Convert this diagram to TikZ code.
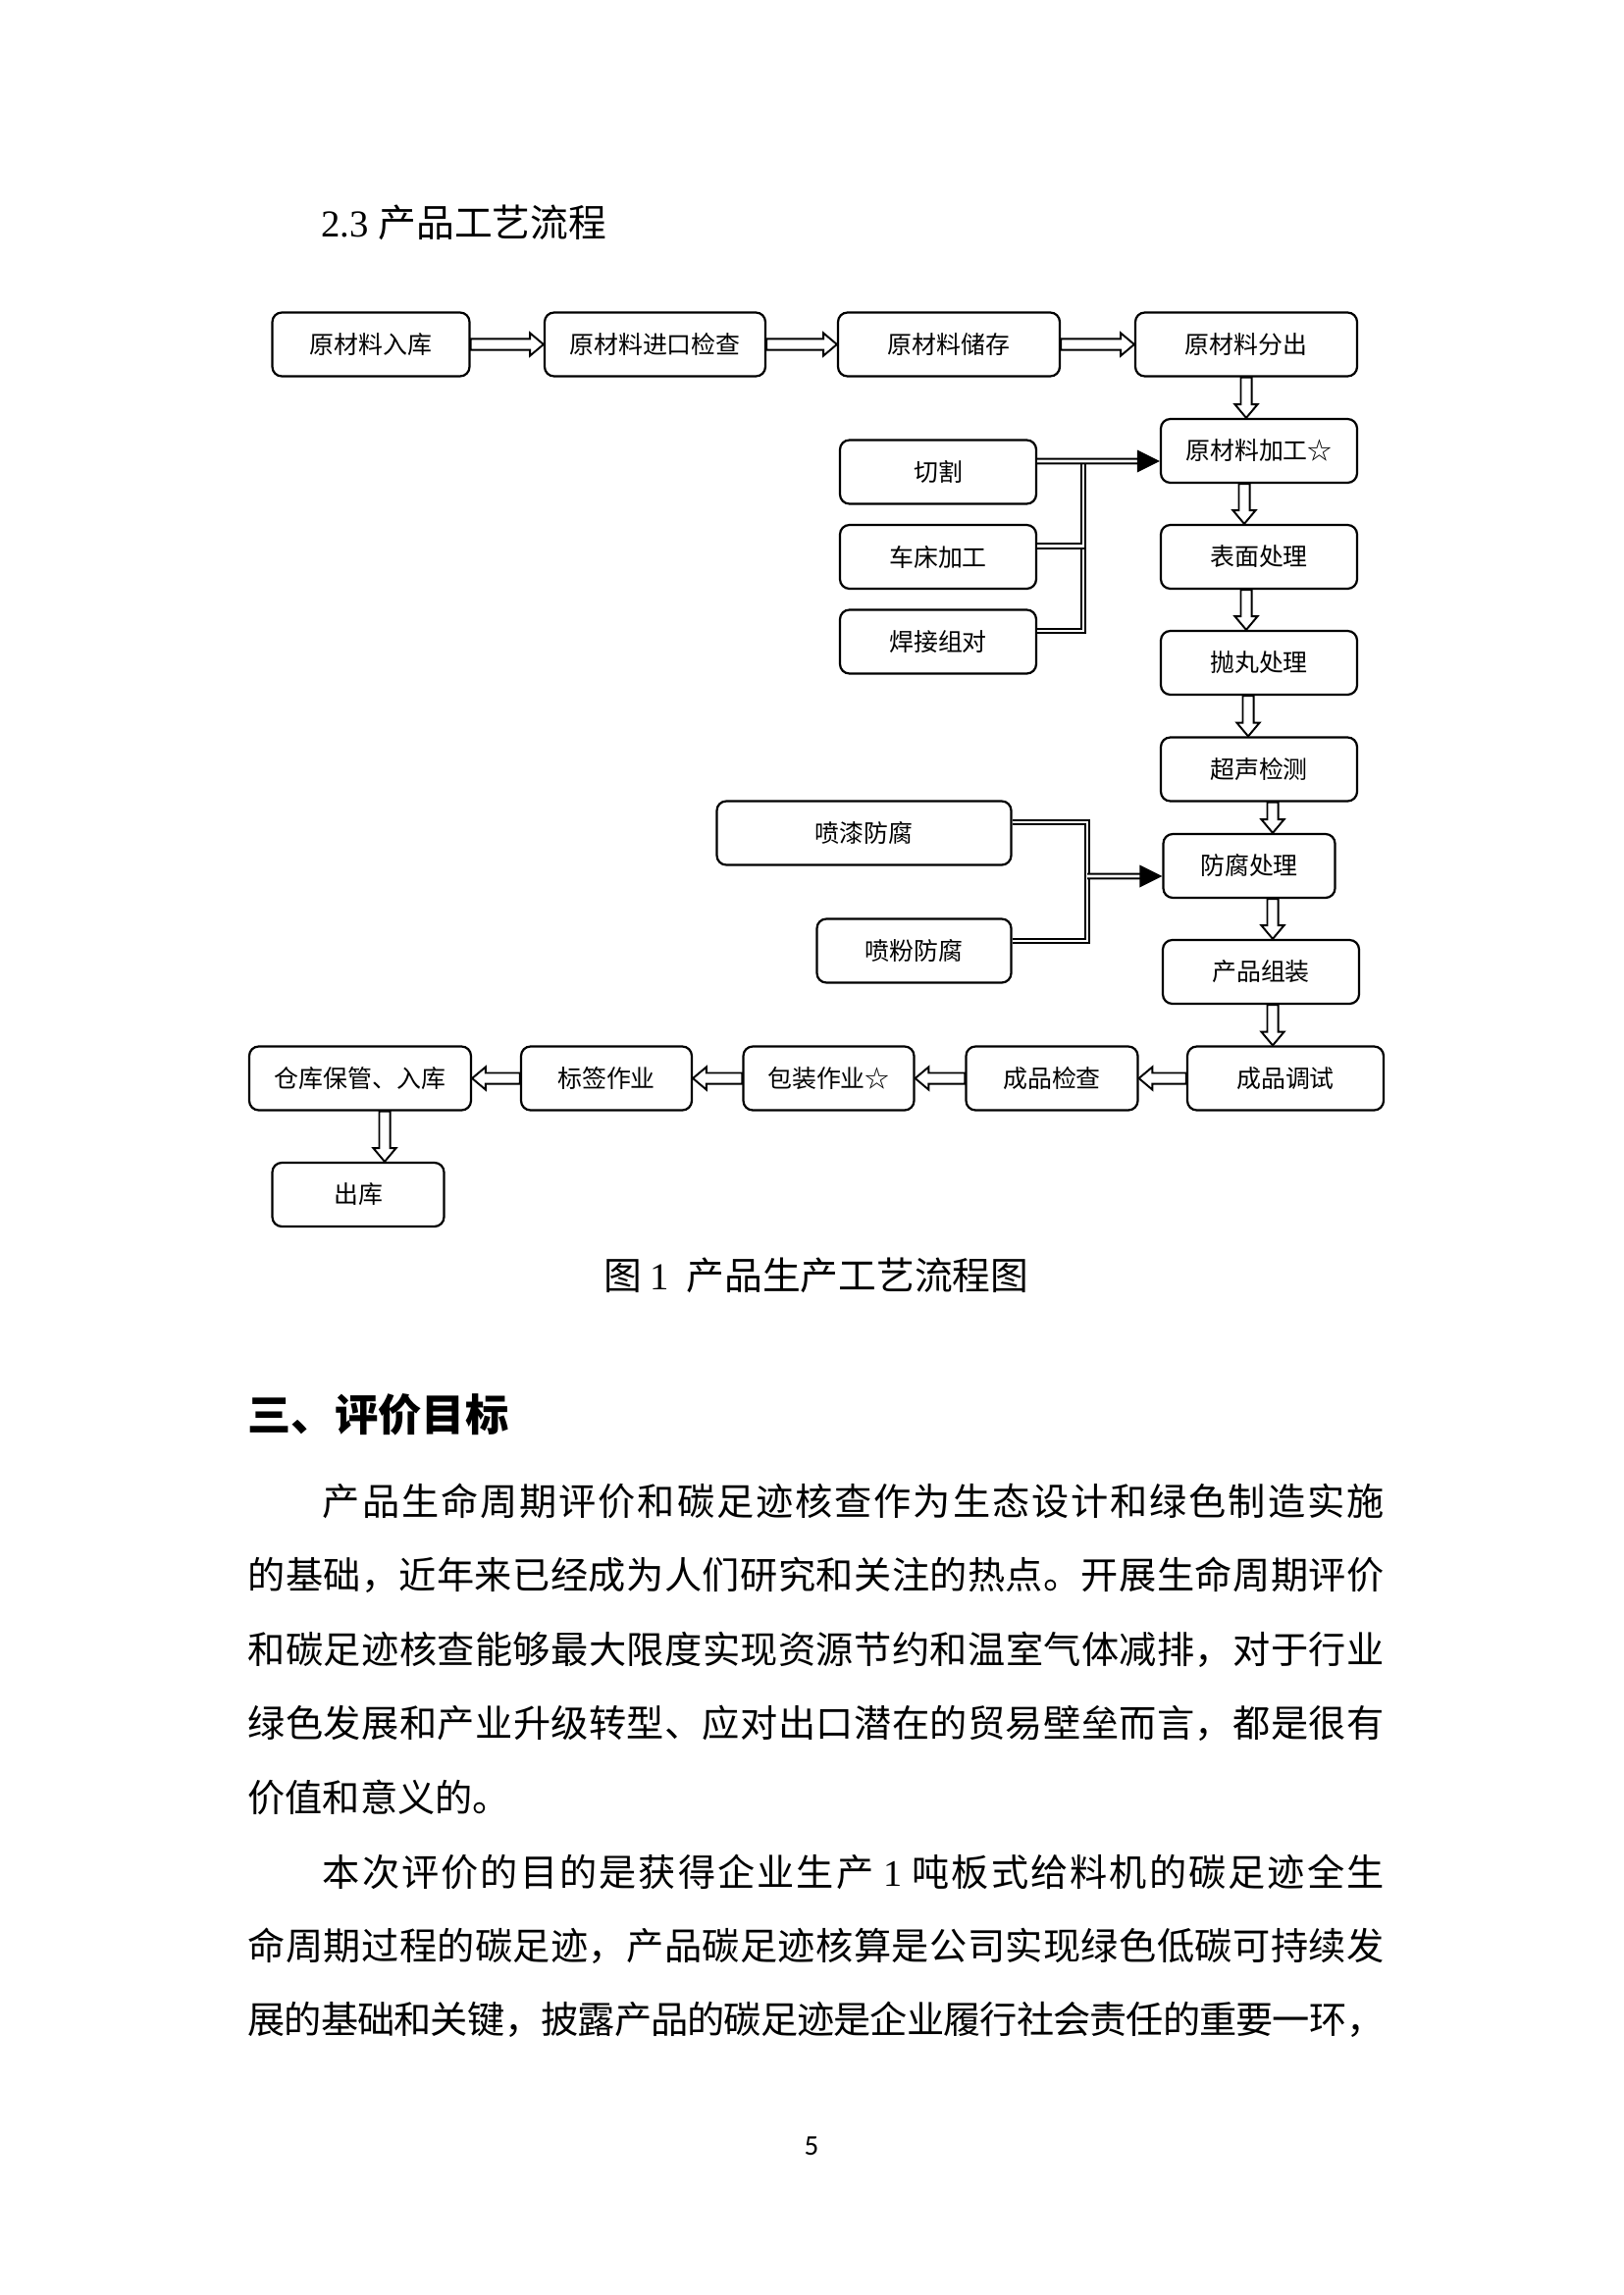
\documentclass[tikz,border=0pt]{standalone}
\usepackage{fontspec}
\setmainfont{Liberation Serif}
\setsansfont{Carlito}
\newfontfamily\cjk{Noto Sans CJK SC}
\usetikzlibrary{calc}
\XeTeXlinebreaklocale "zh"
\XeTeXlinebreakskip=0pt plus 2pt minus 1pt

\def\pxu{0.12697mm}
\def\flexshaft{2pt}
\def\flexhead{4.2pt}
\def\flexlen{5pt}

% hollow arrow, horizontal (y of #1, x of #2)
\newcommand{\flexh}[2]{%
  \draw[flexarrow] let \p1=(#1), \p2=(#2), \n1={(\x2>\x1)*2-1} in
    ({\x1},{\y1+\flexshaft}) -- ({\x2-\n1*\flexlen},{\y1+\flexshaft}) -- ({\x2-\n1*\flexlen},{\y1+\flexhead})
    -- ({\x2},{\y1}) -- ({\x2-\n1*\flexlen},{\y1-\flexhead}) -- ({\x2-\n1*\flexlen},{\y1-\flexshaft})
    -- ({\x1},{\y1-\flexshaft}) -- cycle;}
% hollow arrow, vertical (x of #1, y of #2)
\newcommand{\flexv}[2]{%
  \draw[flexarrow] let \p1=(#1), \p2=(#2), \n1={(\y2>\y1)*2-1} in
    ({\x1+\flexshaft},{\y1}) -- ({\x1+\flexshaft},{\y2-\n1*\flexlen}) -- ({\x1+\flexhead},{\y2-\n1*\flexlen})
    -- ({\x1},{\y2}) -- ({\x1-\flexhead},{\y2-\n1*\flexlen}) -- ({\x1-\flexshaft},{\y2-\n1*\flexlen})
    -- ({\x1-\flexshaft},{\y1}) -- cycle;}

\begin{document}
\begin{tikzpicture}[x=0.12697mm, y=-0.12697mm,
    box/.style={draw, line width=0.8pt, rounded corners=3.5pt, minimum width=#1*\pxu,
      minimum height=65*\pxu, inner sep=0pt, font=\cjk\fontsize{9}{11}\selectfont},
    box/.default=200,
    flexarrow/.style={draw, fill=white, line width=0.7pt, line join=miter},
    linkline/.style={double, double distance=1.0pt, line width=0.7pt},
    bodyline/.style={anchor=west, inner sep=0pt, font=\cjk\fontsize{13.8}{16}\selectfont},
    fullline/.style={bodyline, text width=1158*\pxu, align=justify}]
  \path[use as bounding box, fill=white] (0,0) rectangle (1654,2339);

  \node[anchor=west, inner sep=0pt, font=\fontsize{14}{16}\selectfont] (title) at (327,227) {2.3 {\cjk 产品工艺流程}};

  % main flow
  \node[box=201] (ruku) at (378,351) {原材料入库};
  \node[box=225] (jinkou) at (667.5,351) {原材料进口检查};
  \node[box=226] (chucun) at (967,351) {原材料储存};
  \node[box=226] (fenchu) at (1270,351) {原材料分出};
  \node[box] (jiagong) at (1283,459.5) {原材料加工☆};
  \node[box] (biaomian) at (1283,567.5) {表面处理};
  \node[box] (paowan) at (1283,675.5) {抛丸处理};
  \node[box] (chaosheng) at (1283,784) {超声检测};
  \node[box=175] (fangfu) at (1273,882.5) {防腐处理};
  \node[box] (zuzhuang) at (1285,990.5) {产品组装};
  \node[box] (tiaoshi) at (1310,1099) {成品调试};
  \node[box=175] (jiancha) at (1072,1099) {成品检查};
  \node[box=174] (baozhuang) at (844.5,1099) {包装作业☆};
  \node[box=174] (biaoqian) at (618,1099) {标签作业};
  \node[box=226] (cangku) at (367,1099) {仓库保管、入库};
  \node[box=175] (chuku) at (365,1217.5) {出库};

  % side processes
  \node[box] (qiege) at (956,481) {切割};
  \node[box] (chechuang) at (956,567.5) {车床加工};
  \node[box] (hanjie) at (956,654) {焊接组对};
  \node[box=300] (penqi) at (880.5,849) {喷漆防腐};
  \node[box=198] (penfen) at (931.5,969) {喷粉防腐};

  \flexh{ruku.east}{jinkou.west}
  \flexh{jinkou.east}{chucun.west}
  \flexh{chucun.east}{fenchu.west}
  \flexv{fenchu.south}{jiagong.north}
  \flexv{[shift={(-15,0)}]jiagong.south}{biaomian.north}
  \flexv{[shift={(-13,0)}]biaomian.south}{paowan.north}
  \flexv{[shift={(-11,0)}]paowan.south}{chaosheng.north}
  \flexv{[shift={(14,0)}]chaosheng.south}{fangfu.north}
  \flexv{[shift={(24,0)}]fangfu.south}{zuzhuang.north}
  \flexv{[shift={(12,0)}]zuzhuang.south}{tiaoshi.north}
  \flexh{tiaoshi.west}{jiancha.east}
  \flexh{jiancha.west}{baozhuang.east}
  \flexh{baozhuang.west}{biaoqian.east}
  \flexh{biaoqian.west}{cangku.east}
  \flexv{[shift={(25,0)}]cangku.south}{chuku.north}

  % machining branches
  \coordinate (bar1) at (1104,470);
  \draw[linkline] ([shift={(0,-11)}]hanjie.east) -| (bar1);
  \draw[linkline] ([shift={(0,-11)}]chechuang.east) -| (bar1);
  \draw[linkline] ([shift={(0,-11)}]qiege.east) -- ([shift={(-22,10.5)}]jiagong.west);
  \fill ([shift={(0,10.5)}]jiagong.west) -- ++(-23,-11.5) -- ++(0,23) -- cycle;

  % anti-corrosion branches
  \coordinate (bar2) at (1108,893);
  \draw[linkline] ([shift={(0,-11)}]penqi.east) -| (bar2) |- ([shift={(0,-10)}]penfen.east);
  \draw[linkline] (bar2) -- ([shift={(-22,10.5)}]fangfu.west);
  \fill ([shift={(0,10.5)}]fangfu.west) -- ++(-23,-11.5) -- ++(0,23) -- cycle;

  \node[font=\cjk\fontsize{14}{16}\selectfont] (caption) at (832,1300) {图 {\rmfamily 1}\ \ 产品生产工艺流程图};

  \node[anchor=west, inner sep=0pt, font=\cjk\bfseries\fontsize{16}{19}\selectfont] (section) at (252,1442) {三、评价目标};

  \node[fullline] (line1) at (252,1530) {\noindent\parfillskip=0pt \hspace*{2em}产品生命周期评价和碳足迹核查作为生态设计和绿色制造实施\par};
  \node[fullline] (line2) at (252,1605.5) {\noindent\parfillskip=0pt 的基础，近年来已经成为人们研究和关注的热点。开展生命周期评价\par};
  \node[fullline] (line3) at (252,1681) {\noindent\parfillskip=0pt 和碳足迹核查能够最大限度实现资源节约和温室气体减排，对于行业\par};
  \node[fullline] (line4) at (252,1756.5) {\noindent\parfillskip=0pt 绿色发展和产业升级转型、应对出口潜在的贸易壁垒而言，都是很有\par};
  \node[bodyline] (line5) at (252,1832) {价值和意义的。};
  \node[fullline] (line6) at (252,1907.5) {\noindent\parfillskip=0pt \hspace*{2em}本次评价的目的是获得企业生产 {\rmfamily 1} 吨板式给料机的碳足迹全生\par};
  \node[fullline] (line7) at (252,1983) {\noindent\parfillskip=0pt 命周期过程的碳足迹，产品碳足迹核算是公司实现绿色低碳可持续发\par};
  \node[fullline] (line8) at (252,2058.5) {\noindent\parfillskip=0pt 展的基础和关键，披露产品的碳足迹是企业履行社会责任的重要一环，\par};

  \node[font=\sffamily\fontsize{10.5}{12}\selectfont] (pagenum) at (827,2187) {5};
\end{tikzpicture}
\end{document}
